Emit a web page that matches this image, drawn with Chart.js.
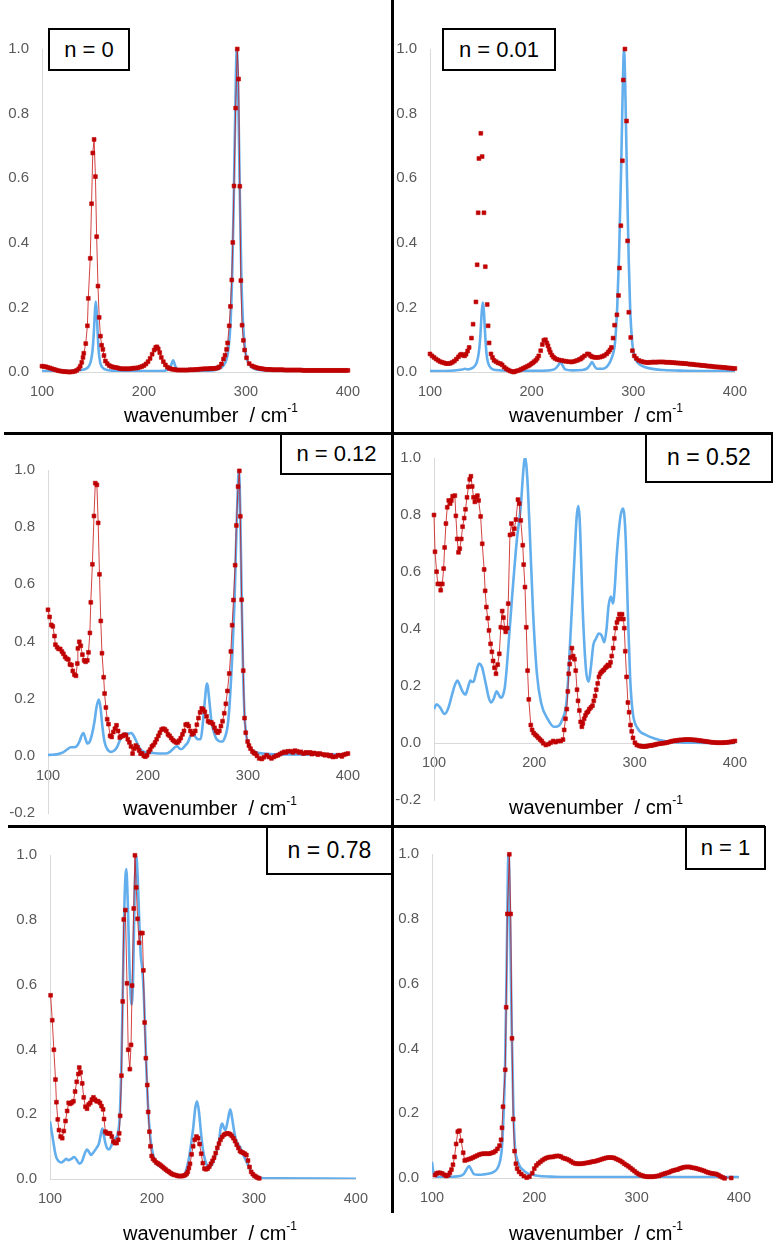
<!DOCTYPE html>
<html><head><meta charset="utf-8">
<script src="https://cdn.jsdelivr.net/npm/chart.js@4.4.1/dist/chart.umd.min.js"></script>
<style>
html,body{margin:0;padding:0;background:#fff}
body{width:776px;height:1256px;position:relative;overflow:hidden;font-family:"Liberation Sans",Arial,sans-serif}
canvas{position:absolute}
.rule{position:absolute;background:#000}
.lab{position:absolute;border:2px solid #000;box-sizing:border-box;display:flex;align-items:center;justify-content:center;background:#fff;color:#000;white-space:nowrap}
.xt{position:absolute;width:300px;text-align:center;font-size:20px;color:#000;line-height:24px;white-space:nowrap}
.xt sup{font-size:12px;line-height:0;position:relative;top:-2px}
</style></head><body>
<script>
// ---------------- DATA (wavenumber / cm-1, normalised intensity) ----------------
// n = 0
const n0_calc = [[100,0.003],[110,0.003],[120,0.003],[130,0.004],[138,0.006],[143,0.01],[146,0.018],[148,0.035],[149.5,0.065],[150.8,0.12],[151.8,0.18],[152.7,0.218],[153.6,0.19],[154.6,0.12],[155.6,0.065],[157,0.03],[159,0.015],[162,0.008],[170,0.004],[190,0.003],[210,0.003],[220,0.004],[224,0.008],[226.5,0.02],[228.7,0.036],[230.5,0.02],[233,0.007],[240,0.004],[260,0.004],[272,0.008],[278,0.02],[281,0.04],[283,0.075],[285,0.16],[286.5,0.3],[288,0.52],[289.5,0.8],[291,1.0],[292.5,0.85],[294,0.55],[295.5,0.3],[297,0.16],[299,0.075],[301,0.04],[304,0.02],[310,0.008],[330,0.004],[400,0.002]];
const n0_exp = [[100,0.018],[102,0.017],[104,0.016],[106,0.014],[108,0.012],[110,0.01],[112,0.008],[114,0.006],[116,0.004],[118,0.003],[120,0.002],[122,0.001],[124,0.001],[126,0.0],[128,0.0],[130,0.001],[132,0.002],[134,0.005],[136,0.01],[137.5,0.018],[139,0.03],[140.2,0.045],[141,0.058],[142.9,0.088],[144.5,0.143],[145.4,0.228],[147.3,0.352],[148.6,0.521],[149.8,0.678],[151.1,0.72],[152.4,0.605],[153.6,0.419],[154.9,0.266],[156.1,0.169],[157.3,0.111],[158.5,0.083],[159.7,0.07],[160.8,0.051],[162.2,0.034],[164,0.026],[166,0.02],[168,0.017],[170,0.015],[172,0.014],[174,0.013],[176,0.011],[178,0.01],[180,0.01],[182,0.01],[184,0.01],[186,0.01],[188,0.011],[190,0.012],[192,0.012],[194,0.013],[196,0.015],[198,0.017],[200,0.02],[202,0.025],[204,0.032],[206,0.042],[208,0.055],[210,0.068],[211.5,0.076],[212.6,0.078],[214,0.072],[215.5,0.06],[217,0.045],[219,0.032],[221,0.022],[223,0.015],[225,0.011],[227,0.009],[229,0.008],[231,0.007],[233,0.006],[235,0.006],[237,0.006],[239,0.006],[241,0.006],[243,0.006],[245,0.007],[247,0.007],[249,0.007],[251,0.008],[253,0.008],[255,0.009],[257,0.009],[259,0.01],[261,0.01],[263,0.01],[265,0.011],[267,0.011],[269,0.011],[271,0.012],[272.5,0.013],[274,0.016],[276,0.025],[278,0.04],[279.5,0.052],[281,0.07],[282,0.09],[283.6,0.143],[284.8,0.203],[286.1,0.285],[287.1,0.401],[288.3,0.576],[289.9,0.817],[291.5,1.0],[292.8,0.907],[294,0.575],[295,0.283],[296.2,0.145],[297.5,0.098],[298.7,0.068],[300.6,0.044],[303.2,0.026],[306,0.019],[308,0.016],[310,0.014],[312,0.012],[314,0.011],[316,0.01],[318,0.009],[320,0.008],[322,0.008],[324,0.008],[326,0.007],[328,0.007],[330,0.007],[332,0.007],[334,0.007],[336,0.007],[338,0.006],[340,0.006],[342,0.006],[344,0.006],[346,0.006],[348,0.006],[350,0.006],[352,0.006],[354,0.006],[356,0.005],[358,0.005],[360,0.005],[362,0.005],[364,0.005],[366,0.005],[368,0.005],[370,0.005],[372,0.005],[374,0.005],[376,0.005],[378,0.005],[380,0.005],[382,0.005],[384,0.005],[386,0.005],[388,0.005],[390,0.005],[392,0.005],[394,0.005],[396,0.005],[398,0.005],[400,0.005]];

// n = 0.01
const n001_calc = [[100,0.003],[120,0.004],[128,0.006],[132,0.008],[134.5,0.01],[137,0.008],[140,0.01],[143,0.015],[146,0.03],[148,0.06],[149.5,0.11],[150.8,0.18],[151.9,0.215],[153,0.19],[154.2,0.12],[155.5,0.06],[157,0.03],[160,0.012],[165,0.006],[180,0.004],[210,0.004],[220,0.006],[224,0.012],[226.5,0.022],[228.5,0.031],[230.5,0.02],[233,0.008],[240,0.005],[250,0.006],[255,0.012],[257.5,0.022],[259.5,0.031],[261.5,0.02],[264,0.01],[270,0.01],[275,0.02],[279,0.045],[282,0.09],[284.2,0.2],[286,0.36],[288,0.62],[289.8,0.9],[290.9,1.0],[292,0.9],[293.8,0.6],[295.5,0.35],[296.9,0.2],[299,0.09],[301,0.05],[304,0.03],[308,0.02],[315,0.012],[330,0.006],[350,0.004],[400,0.003]];
const n001_exp = [[100,0.056],[102,0.05],[104,0.045],[106,0.04],[108,0.036],[110,0.032],[112,0.03],[114,0.028],[116,0.026],[118,0.026],[120,0.027],[122,0.03],[124,0.034],[126,0.04],[128,0.047],[129.7,0.053],[131,0.055],[132.5,0.052],[134,0.05],[135.5,0.055],[137,0.065],[138.5,0.076],[140.8,0.105],[142.4,0.148],[145.2,0.217],[146.4,0.332],[147.4,0.493],[148.1,0.661],[150.0,0.739],[151.3,0.667],[153.1,0.493],[154.4,0.326],[156.3,0.209],[157.2,0.143],[158.2,0.09],[160,0.056],[161.5,0.045],[163,0.036],[165,0.032],[167,0.028],[169.3,0.026],[171,0.022],[173,0.015],[175,0.01],[177,0.006],[179,0.003],[181,0.001],[182.5,0.0],[184,0.002],[186,0.004],[188.3,0.006],[190,0.009],[192,0.012],[194,0.015],[196,0.018],[197.8,0.021],[199.5,0.025],[201,0.028],[202.5,0.032],[204.1,0.036],[205.5,0.042],[207,0.05],[208.9,0.066],[210.5,0.085],[212,0.098],[213.6,0.1],[215,0.09],[216.1,0.081],[217.3,0.07],[218.4,0.061],[220,0.052],[221.5,0.046],[223,0.042],[225,0.039],[227,0.037],[229.5,0.036],[232,0.034],[234,0.033],[236.5,0.032],[239,0.031],[241,0.032],[243,0.034],[245,0.036],[247,0.039],[248.5,0.041],[250,0.045],[252,0.05],[254.8,0.056],[256.5,0.055],[258,0.05],[259.5,0.047],[261.1,0.046],[263,0.045],[265,0.045],[267.4,0.046],[269.5,0.048],[271.5,0.051],[273.8,0.056],[275.5,0.062],[277,0.068],[278.5,0.076],[280.1,0.105],[281.6,0.145],[283.9,0.177],[285.5,0.237],[286.4,0.322],[287.8,0.453],[289.3,0.654],[290.2,0.904],[291.8,1.0],[293.4,0.777],[294.4,0.406],[295.6,0.185],[297.5,0.107],[299.1,0.066],[301,0.05],[303,0.042],[305.4,0.036],[308,0.033],[310,0.031],[312,0.03],[314,0.029],[316,0.03],[318,0.03],[320,0.031],[322,0.03],[324,0.031],[326,0.031],[328,0.031],[330,0.031],[332,0.03],[334,0.03],[336,0.03],[338,0.029],[340,0.029],[342,0.028],[344,0.028],[346,0.027],[348,0.027],[350,0.026],[352,0.026],[354,0.025],[356,0.024],[358,0.024],[360,0.023],[362,0.022],[364,0.022],[366,0.021],[368,0.02],[370,0.02],[372,0.019],[374,0.018],[376,0.018],[378,0.017],[380,0.016],[382,0.016],[384,0.015],[386,0.015],[388,0.014],[390,0.014],[392,0.013],[394,0.012],[396,0.012],[398,0.011],[400,0.011]];

// n = 0.12
const n012_calc = [[100,0.003],[105,0.004],[110,0.006],[115,0.012],[119,0.022],[122.6,0.03],[126,0.03],[129,0.035],[131.5,0.05],[133.5,0.07],[135.4,0.08],[137.5,0.06],[139.5,0.043],[141.5,0.048],[144,0.075],[146.5,0.12],[148.5,0.17],[150.8,0.197],[152.5,0.17],[154.5,0.1],[156.5,0.05],[159,0.025],[162.7,0.014],[166,0.018],[169,0.03],[172,0.055],[175,0.075],[178,0.078],[181,0.078],[183.6,0.08],[186,0.068],[188.5,0.05],[191,0.03],[194,0.018],[198,0.012],[205,0.01],[212,0.008],[217.4,0.008],[222,0.014],[225,0.024],[227,0.03],[229,0.034],[231.8,0.025],[234,0.024],[237,0.035],[239.9,0.047],[242.5,0.07],[244.7,0.081],[246.5,0.072],[248,0.064],[250,0.058],[252.7,0.058],[254.5,0.1],[256.6,0.182],[259.1,0.253],[261.7,0.182],[263.5,0.12],[265.6,0.087],[268,0.062],[270.4,0.053],[272.5,0.05],[274.6,0.05],[277,0.065],[279.1,0.092],[280.5,0.13],[281.7,0.182],[283,0.26],[284.2,0.34],[285.5,0.45],[286.5,0.531],[288,0.72],[289.5,0.9],[291,1.0],[292.2,0.88],[293.5,0.6],[295,0.32],[296.5,0.15],[298,0.08],[300,0.045],[303,0.025],[307,0.014],[315,0.008],[330,0.005],[400,0.004]];
const n012_exp = [[100.0,0.511],[101.6,0.486],[103.3,0.458],[104.8,0.453],[106.5,0.419],[107.4,0.389],[109.1,0.38],[110.6,0.374],[112.2,0.374],[113.9,0.365],[115.4,0.357],[117.1,0.346],[118.7,0.34],[120.3,0.337],[121.9,0.32],[123.5,0.318],[124.8,0.297],[126.4,0.284],[128.0,0.28],[129.3,0.323],[129.9,0.376],[131.3,0.399],[132.8,0.385],[134.4,0.354],[136.1,0.334],[137.6,0.329],[139.3,0.334],[140.5,0.362],[141.9,0.43],[142.8,0.537],[144.4,0.67],[146.0,0.839],[147.3,0.954],[148.9,0.948],[150.2,0.815],[151.5,0.635],[152.8,0.472],[154.0,0.359],[155.7,0.275],[156.6,0.218],[157.9,0.169],[159.2,0.128],[160.5,0.111],[162.1,0.07],[163.7,0.066],[165.3,0.083],[166.9,0.095],[168.5,0.107],[170.1,0.087],[171.8,0.064],[173.3,0.068],[174.9,0.07],[176.5,0.074],[178.1,0.072],[179.8,0.058],[181.4,0.047],[183.0,0.033],[184.6,0.008],[186.2,0.025],[187.8,0.036],[189.5,0.03],[191.1,0.019],[192.6,0.008],[194.2,0.008],[195.8,0.0],[197.4,-0.003],[199.1,0.002],[200.7,0.014],[202.3,0.022],[203.9,0.033],[205.5,0.038],[207.1,0.047],[208.7,0.058],[210.4,0.07],[211.9,0.081],[213.6,0.092],[215.2,0.095],[216.8,0.093],[218.4,0.087],[220.0,0.075],[221.6,0.07],[223.3,0.062],[224.9,0.055],[226.4,0.051],[228.1,0.047],[229.7,0.047],[231.2,0.053],[232.8,0.062],[234.5,0.075],[236.0,0.087],[237.7,0.109],[239.3,0.111],[240.8,0.104],[242.5,0.087],[244.1,0.075],[245.6,0.079],[247.3,0.087],[248.9,0.109],[250.5,0.132],[252.1,0.152],[253.8,0.166],[255.3,0.162],[256.9,0.154],[258.6,0.138],[260.1,0.121],[261.8,0.117],[263.4,0.117],[265.0,0.111],[266.6,0.098],[268.2,0.087],[269.8,0.081],[271.4,0.087],[273.0,0.104],[274.6,0.121],[276.3,0.149],[277.9,0.182],[279.5,0.227],[281.3,0.288],[282.9,0.365],[284.2,0.457],[285.5,0.545],[287.2,0.667],[288.4,0.806],[290.1,0.942],[291.4,0.997],[292.4,0.838],[293.7,0.546],[295.3,0.298],[296.6,0.132],[297.8,0.081],[299.7,0.05],[301.0,0.036],[302.6,0.025],[304.5,0.015],[306,0.01],[307.4,0.008],[309,0.0],[311.3,-0.009],[313.9,-0.011],[316,-0.005],[318.7,0.002],[321,-0.004],[323.5,-0.009],[326,-0.004],[328,0.0],[330,0.002],[332,0.006],[334,0.01],[336.3,0.014],[338,0.012],[340,0.016],[342.8,0.016],[345,0.012],[347,0.018],[349.2,0.016],[351,0.012],[353,0.014],[355.6,0.008],[358,0.012],[360,0.01],[362.1,0.012],[364,0.006],[366,0.01],[368.5,0.008],[370,0.004],[372,0.008],[374.9,0.005],[377,0.002],[379,0.004],[381.4,-0.001],[383,0.002],[385,-0.004],[387.8,-0.003],[390,0.002],[392.6,0.002],[394,-0.002],[396,0.004],[398,0.006],[400,0.008]];

// n = 0.52
const n052_calc = [[100,0.119],[102.6,0.136],[106,0.125],[110.6,0.102],[114,0.12],[118,0.17],[121,0.205],[123.4,0.219],[125.5,0.205],[127.6,0.187],[129.5,0.175],[131.4,0.17],[133.5,0.19],[136.3,0.219],[138,0.214],[139.4,0.215],[141.5,0.24],[144.9,0.279],[146.5,0.275],[148.1,0.264],[150,0.235],[152.2,0.198],[154.5,0.16],[157,0.142],[159.5,0.155],[162.5,0.181],[164.5,0.17],[166.6,0.159],[168.5,0.165],[170.5,0.193],[172.2,0.25],[173.8,0.322],[177.9,0.514],[182.7,0.716],[186.5,0.829],[188.5,0.93],[190,0.99],[191.1,1.0],[192.2,0.97],[193.5,0.9],[195.5,0.739],[198.8,0.457],[202.6,0.243],[206.7,0.142],[213.2,0.085],[219.5,0.057],[223,0.058],[227.6,0.08],[232.4,0.153],[235.6,0.345],[239.7,0.626],[242.3,0.795],[243.9,0.831],[245.3,0.78],[248.4,0.457],[251.6,0.254],[254.2,0.215],[256.4,0.266],[258.9,0.345],[261.3,0.365],[264.4,0.384],[267.0,0.378],[269.9,0.354],[272,0.4],[274,0.48],[276.3,0.514],[278.5,0.49],[280.5,0.56],[282.0,0.649],[285.9,0.795],[288.5,0.823],[291.0,0.727],[293.3,0.457],[295.5,0.232],[298.1,0.108],[302.9,0.052],[310.9,0.029],[320.5,0.015],[330.1,0.007],[339.7,0.003],[360,0.001],[400,0.0]];
const n052_exp = [[100,0.8],[101.0,0.671],[102.6,0.601],[103.8,0.558],[105.8,0.558],[106.7,0.536],[108.3,0.558],[109.6,0.612],[110.6,0.686],[111.9,0.77],[113.2,0.827],[114.7,0.851],[116.1,0.84],[117.3,0.851],[118.6,0.866],[120.8,0.868],[121.8,0.797],[123.1,0.716],[124.4,0.669],[125.7,0.682],[127.2,0.716],[128.5,0.759],[130.1,0.789],[131.4,0.82],[132.9,0.862],[134.3,0.899],[135.6,0.925],[136.8,0.936],[138.1,0.9],[139.4,0.862],[140.7,0.846],[142.0,0.862],[143.3,0.868],[144.5,0.851],[146.5,0.795],[148.1,0.699],[150.0,0.609],[151.0,0.534],[152.2,0.477],[153.6,0.438],[154.8,0.395],[156.4,0.348],[157.7,0.32],[158.9,0.288],[160.3,0.264],[161.8,0.243],[163.5,0.275],[165.1,0.313],[166.6,0.406],[168.0,0.463],[169.2,0.44],[170.5,0.403],[171.5,0.39],[173.1,0.403],[174.0,0.489],[175.7,0.73],[177.2,0.77],[178.8,0.733],[180.1,0.752],[181.7,0.784],[183.7,0.854],[185.0,0.84],[186.5,0.781],[188.5,0.694],[189.4,0.626],[190.7,0.547],[192.0,0.406],[193.3,0.254],[194.5,0.153],[196.5,0.063],[197.8,0.046],[199.3,0.035],[201.0,0.029],[202.6,0.024],[204.1,0.018],[205.8,0.012],[207.4,0.007],[209.0,-0.001],[211.5,-0.007],[214.1,-0.004],[216.3,0.001],[218.9,0.007],[221.2,0.003],[223.7,0.007],[226.3,0.007],[228.6,0.012],[229.8,0.046],[231.1,0.085],[232.4,0.119],[233.4,0.181],[234.3,0.243],[235.3,0.277],[236.2,0.3],[237.5,0.333],[238.8,0.305],[240.1,0.294],[241.3,0.254],[242.6,0.187],[243.6,0.148],[244.9,0.114],[246.2,0.074],[247.4,0.057],[248.4,0.069],[249.7,0.085],[251.0,0.097],[252.2,0.106],[253.6,0.11],[254.8,0.119],[256.4,0.125],[258.0,0.131],[259.3,0.148],[260.6,0.165],[261.8,0.187],[263.2,0.209],[264.4,0.232],[265.7,0.243],[267.0,0.249],[268.3,0.254],[269.5,0.257],[270.9,0.264],[272.1,0.268],[273.4,0.274],[274.7,0.271],[276.0,0.283],[277.2,0.305],[278.6,0.333],[279.8,0.367],[281.1,0.403],[282.4,0.423],[283.7,0.435],[284.9,0.452],[286.2,0.435],[287.5,0.452],[288.8,0.435],[289.7,0.403],[290.7,0.322],[292.0,0.232],[293.3,0.142],[294.5,0.108],[295.9,0.063],[297.1,0.041],[298.4,0.018],[300.3,0.001],[302.2,-0.007],[304.5,-0.01],[306,-0.011],[307.7,-0.012],[309.5,-0.012],[310.9,-0.012],[312.5,-0.011],[314.1,-0.01],[316,-0.009],[317.3,-0.008],[319,-0.007],[320.5,-0.006],[322.1,-0.004],[324,-0.003],[326,-0.002],[328,-0.001],[330,0.0],[332,0.001],[334,0.003],[336,0.005],[338,0.007],[340,0.008],[342,0.009],[344,0.01],[346,0.011],[348,0.011],[350,0.012],[352,0.012],[354,0.012],[356,0.012],[358,0.011],[360,0.011],[362,0.01],[364,0.009],[366,0.008],[368,0.007],[370,0.006],[372,0.005],[374,0.004],[376,0.003],[378,0.002],[380,0.002],[382,0.001],[384,0.001],[386,0.001],[388,0.001],[390,0.002],[392,0.002],[394,0.003],[396,0.004],[398,0.005],[400,0.007]];

// n = 0.78
const n078_calc = [[100,0.178],[101.5,0.15],[103.2,0.116],[104.8,0.085],[106.3,0.066],[108.5,0.055],[111.1,0.051],[113.5,0.056],[115.8,0.062],[118,0.058],[121,0.062],[123.7,0.068],[126,0.06],[129,0.047],[131.5,0.055],[134,0.078],[136.3,0.091],[138.5,0.082],[140.4,0.074],[142.5,0.082],[145.7,0.096],[148,0.11],[150,0.14],[151.4,0.156],[152.8,0.135],[154.3,0.111],[156,0.095],[157.8,0.091],[159.8,0.1],[161.6,0.116],[164,0.125],[166.9,0.146],[168.5,0.2],[170,0.35],[171.5,0.6],[173,0.85],[174.8,0.957],[176.3,0.85],[178,0.65],[179.9,0.538],[181.5,0.62],[183,0.88],[184.6,0.997],[186,0.93],[187.5,0.8],[189,0.691],[190.5,0.65],[192,0.57],[193.1,0.473],[195,0.3],[197.8,0.146],[201,0.076],[204,0.05],[210,0.035],[216,0.022],[222,0.013],[228,0.01],[232,0.015],[235.8,0.057],[238,0.1],[240.4,0.156],[242.5,0.22],[244.2,0.24],[246,0.21],[248.3,0.136],[250,0.09],[251.5,0.066],[253.5,0.045],[256.3,0.037],[259,0.045],[262,0.07],[265.7,0.116],[267.5,0.16],[268.9,0.171],[270.5,0.158],[272,0.151],[274,0.175],[276.8,0.215],[278.5,0.19],[279.9,0.161],[282,0.125],[284.7,0.106],[287,0.095],[289.4,0.076],[292,0.058],[294.2,0.042],[297,0.025],[300,0.012],[305,0.004],[320,0.002],[400,0.001]];
const n078_exp = [[100.6,0.567],[102.2,0.49],[103.8,0.399],[105.4,0.307],[106.3,0.237],[107.6,0.184],[108.8,0.151],[110.4,0.131],[112.0,0.126],[113.5,0.148],[115.2,0.179],[116.8,0.21],[118.3,0.235],[119.9,0.232],[121.5,0.236],[123.0,0.24],[124.6,0.27],[126.2,0.3],[127.8,0.324],[128.7,0.344],[130.0,0.329],[131.6,0.295],[133.1,0.252],[134.7,0.223],[136.3,0.217],[137.9,0.23],[139.5,0.235],[141.0,0.245],[142.6,0.252],[144.2,0.245],[145.7,0.24],[147.3,0.24],[149.0,0.235],[150.5,0.225],[152.1,0.215],[153.0,0.185],[154.3,0.146],[155.9,0.141],[157.5,0.141],[159.0,0.141],[160.6,0.131],[162.2,0.116],[163.7,0.111],[165.3,0.111],[166.9,0.121],[167.9,0.141],[168.8,0.195],[170.1,0.319],[171.3,0.548],[172.3,0.801],[173.9,0.83],[175.5,0.604],[176.7,0.399],[178.3,0.339],[179.5,0.414],[180.5,0.597],[182.1,0.835],[183.3,0.999],[184.6,0.9],[185.9,0.803],[187.4,0.729],[189.0,0.759],[190.6,0.759],[191.6,0.644],[192.8,0.483],[194.0,0.373],[195.4,0.29],[196.3,0.207],[197.5,0.146],[198.5,0.101],[199.7,0.071],[201.0,0.062],[202.6,0.057],[204.2,0.051],[205.8,0.048],[207.3,0.045],[209,0.041],[210.5,0.037],[212,0.033],[213.6,0.029],[215.2,0.025],[216.8,0.022],[218.4,0.018],[219.9,0.015],[221.5,0.013],[223.1,0.012],[224.7,0.01],[226.2,0.009],[227.8,0.009],[229.4,0.009],[231,0.01],[232.6,0.012],[234,0.016],[235.1,0.022],[236.2,0.034],[237.3,0.047],[238.9,0.076],[240.4,0.101],[242.0,0.121],[243.6,0.131],[245.2,0.126],[246.7,0.108],[248.3,0.078],[249.9,0.049],[251.5,0.032],[253,0.03],[254.6,0.032],[256.2,0.038],[257.8,0.047],[259.4,0.056],[260.9,0.066],[262.5,0.08],[264.1,0.096],[265.7,0.109],[267.2,0.121],[268.9,0.13],[270.5,0.136],[272,0.139],[273.6,0.141],[275.2,0.14],[276.8,0.138],[278.3,0.133],[279.9,0.126],[281.5,0.117],[283.1,0.106],[284.7,0.096],[286.3,0.086],[287.8,0.083],[289.4,0.081],[291,0.078],[292.6,0.074],[294.2,0.057],[295.7,0.037],[297.3,0.022],[298.9,0.015],[300.5,0.01],[302.0,0.007],[303.6,0.004],[305.2,0.002]];

// n = 1
const n1_calc = [[100,0.05],[101,0.025],[102.3,0.009],[105,0.004],[110,0.003],[120,0.004],[127,0.006],[131,0.012],[133.5,0.025],[136.3,0.037],[138.5,0.025],[141,0.012],[145,0.01],[150,0.011],[155,0.013],[160,0.018],[164,0.03],[166.8,0.056],[168.5,0.1],[170,0.2],[171.5,0.35],[173,0.65],[174.2,0.95],[174.8,1.0],[175.5,0.95],[176.8,0.7],[178,0.45],[179.5,0.22],[181,0.1],[183,0.06],[186,0.035],[189,0.025],[193,0.015],[198,0.01],[205,0.006],[220,0.004],[260,0.003],[400,0.003]];
const n1_exp = [[103,0.009],[104.5,0.014],[106,0.016],[108,0.016],[110,0.014],[112,0.01],[114,0.006],[116,0.009],[117.5,0.016],[119,0.026],[120.5,0.041],[122,0.065],[123.6,0.105],[125.2,0.143],[126.8,0.146],[128.5,0.115],[130.5,0.078],[132,0.054],[134,0.056],[136,0.058],[138,0.06],[140,0.063],[142,0.066],[144,0.069],[146,0.072],[148,0.074],[150,0.075],[152,0.075],[154,0.075],[156,0.075],[158,0.077],[160,0.079],[162,0.083],[164,0.09],[166,0.1],[167.5,0.118],[168.4,0.155],[169.4,0.22],[171.6,0.334],[172.5,0.527],[173.7,0.815],[175.6,0.999],[176.9,0.815],[178.2,0.431],[179.4,0.182],[180.7,0.083],[182.0,0.044],[183.2,0.029],[185.1,0.019],[187.3,0.012],[189.8,0.006],[192.6,0.001],[195.2,0.004],[198,0.015],[200,0.029],[202,0.039],[204,0.045],[206,0.05],[208,0.055],[210,0.059],[212,0.062],[214,0.064],[216,0.065],[218,0.065],[220,0.067],[222,0.068],[224,0.068],[226,0.066],[228,0.062],[230,0.06],[232,0.058],[234,0.055],[236,0.051],[238,0.047],[240,0.045],[242,0.044],[244,0.044],[246,0.044],[248,0.045],[250,0.046],[252,0.047],[254,0.048],[256,0.05],[258,0.051],[260,0.052],[262,0.054],[264,0.056],[266,0.058],[268,0.06],[270,0.062],[272,0.063],[274,0.063],[276,0.063],[278,0.062],[280,0.059],[282,0.056],[284,0.053],[286,0.049],[288,0.044],[290,0.04],[292,0.036],[294,0.031],[296,0.026],[298,0.021],[300,0.016],[302,0.012],[304,0.009],[306,0.007],[308,0.005],[310,0.004],[312,0.004],[314,0.004],[316,0.004],[318,0.005],[320,0.006],[322,0.007],[324,0.01],[326,0.012],[328,0.014],[330,0.016],[332,0.018],[334,0.021],[336,0.023],[338,0.025],[340,0.026],[342,0.029],[344,0.031],[346,0.033],[348,0.034],[350,0.034],[352,0.034],[354,0.032],[356,0.031],[358,0.03],[360,0.028],[362,0.026],[364,0.024],[366,0.022],[368,0.019],[370,0.017],[372,0.015],[374,0.014],[376,0.013],[378,0.012],[380,0.009],[382,0.005],[384,0.002],[386,-0.001],[392.5,0.0]];

const panelLabels = ['n = 0','n = 0.01','n = 0.12','n = 0.52','n = 0.78','n = 1'];
const xTicks = [100, 200, 300, 400];
const axisTitle = 'wavenumber';
const axisUnit = 'cm';

// ---------------- LAYOUT ----------------
const panels = [
  {label:panelLabels[0], calc:n0_calc,   exp:n0_exp,   line:true,  ymin:0,    plot:[42,37,359,372],   box:[48,28,82,43,22],   title:[211,415]},
  {label:panelLabels[1], calc:n001_calc, exp:n001_exp, line:false, ymin:0,    plot:[430,37,746,372],  box:[442,28,114,43,22], title:[596,415]},
  {label:panelLabels[2], calc:n012_calc, exp:n012_exp, line:true,  ymin:-0.2, plot:[48,458,359,813],  box:[280,432,113,43,22],title:[210,808]},
  {label:panelLabels[3], calc:n052_calc, exp:n052_exp, line:true,  ymin:-0.2, plot:[434,446,746,800], box:[645,432,128,51,23],title:[596,807]},
  {label:panelLabels[4], calc:n078_calc, exp:n078_exp, line:true,  ymin:0,    plot:[50,843,367,1179], box:[266,825,127,50,23],title:[210,1233]},
  {label:panelLabels[5], calc:n1_calc,   exp:n1_exp,   line:true,  ymin:0,    plot:[432,842,750,1178],box:[685,826,81,44,22], title:[596,1233]}
];

function rule(l,t,w,h){const d=document.createElement('div');d.className='rule';Object.assign(d.style,{left:l+'px',top:t+'px',width:w+'px',height:h+'px'});document.body.appendChild(d);}

const PADL=45, PADT=10, PADR=12, PADB=34;
const tickFont = {family:'"Liberation Sans", Arial, sans-serif', size:15};

panels.forEach(p=>{
  const [l,t,r,b]=p.plot;
  const cv=document.createElement('canvas');
  const W=(r-l)+PADL+PADR, H=(b-t)+PADT+PADB;
  cv.width=W; cv.height=H;
  cv.style.left=(l-PADL)+'px'; cv.style.top=(t-PADT)+'px';
  cv.style.width=W+'px'; cv.style.height=H+'px';
  document.body.appendChild(cv);
  new Chart(cv.getContext('2d'),{
    type:'line',
    data:{datasets:[
      {label:'exp', data:p.exp, order:0, showLine:p.line, borderColor:'rgba(200,20,20,0.8)', borderWidth:1,
       pointStyle:'rect', pointRadius:2.7, pointBackgroundColor:'#C00000', pointBorderColor:'#C00000', pointBorderWidth:0.6,
       tension:0, clip:false},
      {label:'calc', data:p.calc, order:1, borderColor:'#63AEEC', borderWidth:2.6, pointRadius:0,
       cubicInterpolationMode:'monotone', fill:false}
    ]},
    options:{
      responsive:false, animation:false, devicePixelRatio:1,
      layout:{padding:{left:0,top:PADT,right:PADR,bottom:PADB}},
      plugins:{legend:{display:false}, tooltip:{enabled:false}},
      scales:{
        x:{type:'linear', min:100, max:400, position:{y:0},
           afterBuildTicks:s=>{s.ticks=xTicks.map(v=>({value:v}));},
           afterFit:s=>{s.height=0;},
           grid:{display:true,color:'rgba(0,0,0,0)',drawTicks:false},
           border:{display:true,color:'#d9d9d9',width:1},
           ticks:{padding:11,color:'#595959',font:{family:tickFont.family,size:14.5},maxRotation:0,autoSkip:false}},
        y:{type:'linear', min:p.ymin, max:1,
           afterFit:s=>{s.width=PADL;},
           grid:{display:true,color:'rgba(0,0,0,0)',drawTicks:false},
           border:{display:true,color:'#d9d9d9',width:1},
           ticks:{stepSize:0.2,padding:13,color:'#595959',font:tickFont,
                  callback:v=>(Math.abs(v)<1e-9?0:v).toFixed(1)}}
      }
    }
  });
  // panel label box
  const bx=document.createElement('div'); bx.className='lab';
  const [bl,bt,bw,bh,fs]=p.box;
  Object.assign(bx.style,{left:bl+'px',top:bt+'px',width:bw+'px',height:bh+'px',fontSize:fs+'px'});
  bx.textContent=p.label; document.body.appendChild(bx);
  // axis title
  const xt=document.createElement('div'); xt.className='xt';
  xt.style.left=(p.title[0]-150)+'px'; xt.style.top=(p.title[1]-12)+'px';
  xt.innerHTML=axisTitle+'&nbsp; / '+axisUnit+'<sup>-1</sup>';
  document.body.appendChild(xt);
});

// panel dividers
rule(391,0,3,1213);
rule(4,432,769,3);
rule(8,825,757,3);
</script>
</body></html>
